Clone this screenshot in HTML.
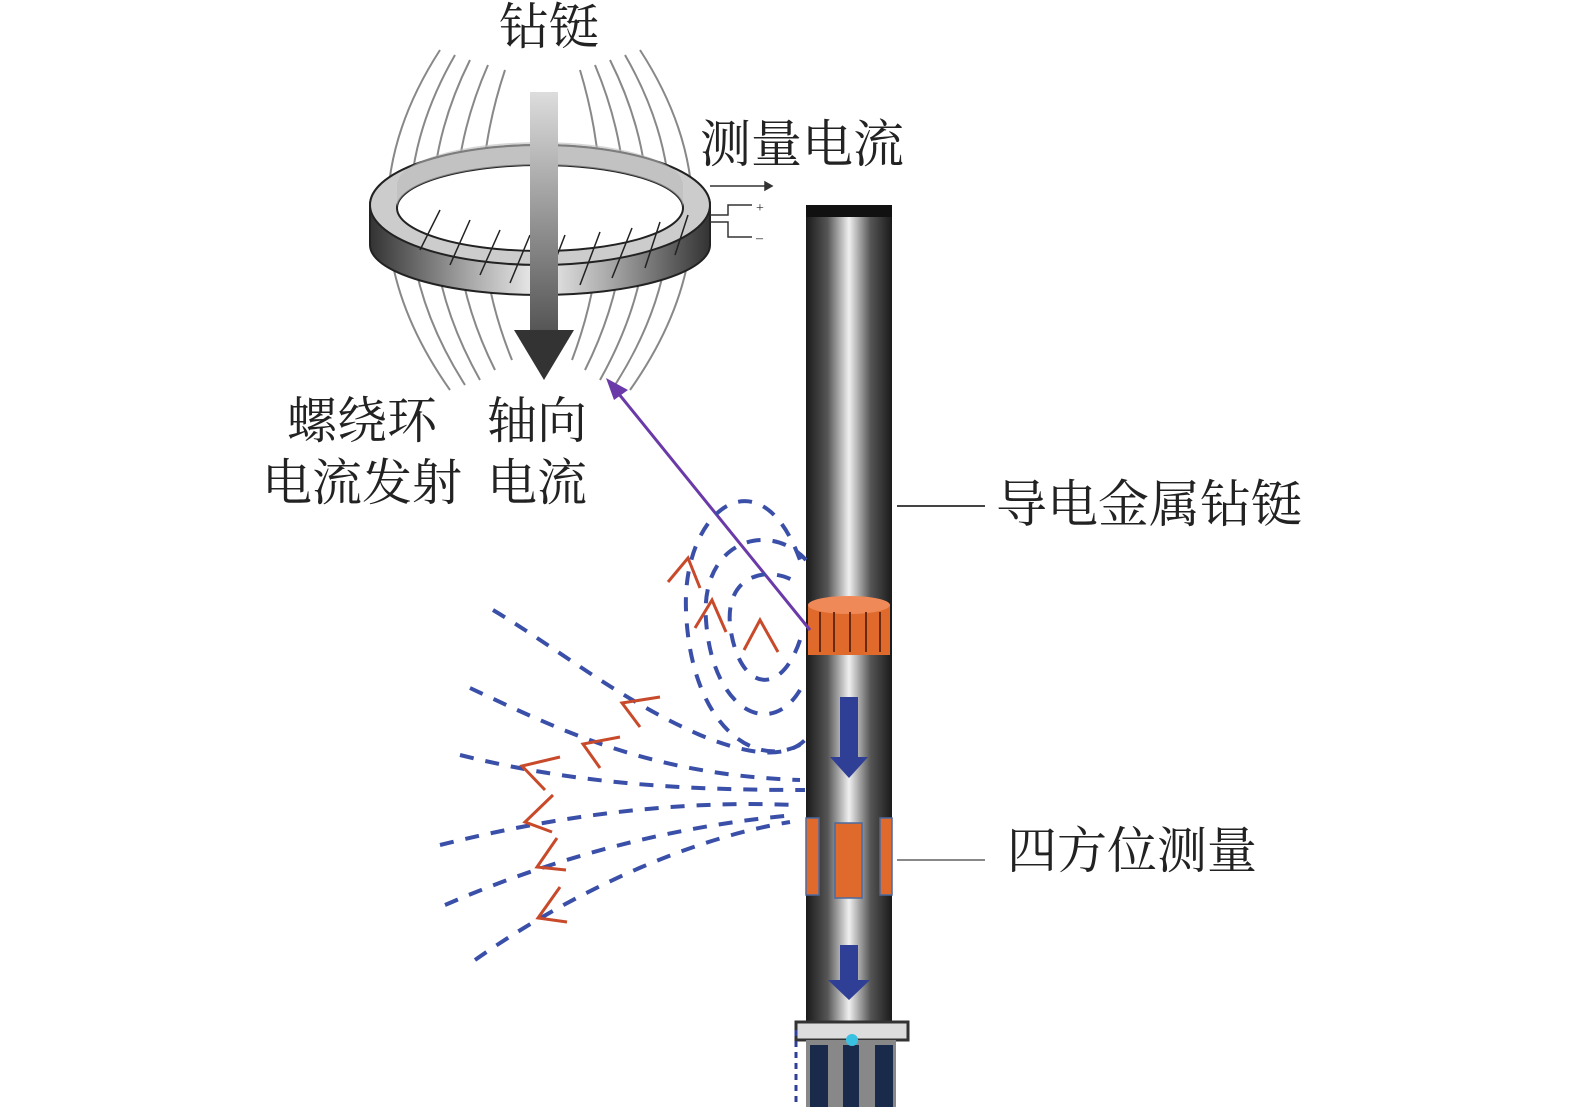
<!DOCTYPE html>
<html><head><meta charset="utf-8"><style>
html,body{margin:0;padding:0;background:#fff}
svg{display:block}
text{font-family:"Liberation Serif","Noto Serif CJK SC",serif;fill:#222}
</style></head><body>
<svg width="1575" height="1107" viewBox="0 0 1575 1107" xmlns="http://www.w3.org/2000/svg">
<defs>
<linearGradient id="pipe" x1="0" x2="1" y1="0" y2="0">
<stop offset="0" stop-color="#1a1a1a"/><stop offset="0.25" stop-color="#555"/><stop offset="0.5" stop-color="#f0f0f0"/><stop offset="0.75" stop-color="#555"/><stop offset="1" stop-color="#1a1a1a"/>
</linearGradient>
<linearGradient id="varr" x1="0" x2="0" y1="0" y2="1">
<stop offset="0" stop-color="#ddd"/><stop offset="1" stop-color="#555"/>
</linearGradient>
<linearGradient id="wall" x1="0" x2="1" y1="0" y2="0">
<stop offset="0" stop-color="#333"/><stop offset="0.3" stop-color="#aaa"/><stop offset="0.5" stop-color="#eee"/><stop offset="0.7" stop-color="#aaa"/><stop offset="1" stop-color="#333"/>
</linearGradient>
</defs>

<g fill="none" stroke="#888" stroke-width="2">
<path d="M440,50 Q330,220 450,390"/>
<path d="M455,55 Q360,220 465,385"/>
<path d="M470,60 Q390,220 480,380"/>
<path d="M488,65 Q420,220 495,370"/>
<path d="M505,70 Q455,220 512,360"/>
<path d="M640,50 Q750,220 630,390"/>
<path d="M625,55 Q720,220 615,385"/>
<path d="M610,60 Q690,220 600,380"/>
<path d="M595,65 Q660,220 585,370"/>
<path d="M580,70 Q625,220 572,360"/>
</g>

<path d="M370,205 A170,60 0 0 1 710,205 L710,245 A170,50 0 0 1 370,245 Z" fill="url(#wall)" stroke="#222" stroke-width="2"/>
<ellipse cx="540" cy="205" rx="170" ry="60" fill="#ccc" stroke="#222" stroke-width="2"/>
<ellipse cx="540" cy="208" rx="143" ry="43" fill="#fff" stroke="#222" stroke-width="2"/>
<path d="M397,208 A143,43 0 0 1 683,208 L683,185 A143,43 0 0 0 397,185 Z" fill="#bbb" opacity="0.6"/>
<g stroke="#222" stroke-width="1.5">
<line x1="420" y1="250" x2="440" y2="210"/><line x1="450" y1="265" x2="470" y2="220"/><line x1="480" y1="275" x2="500" y2="230"/><line x1="510" y1="283" x2="530" y2="235"/><line x1="545" y1="287" x2="565" y2="235"/><line x1="580" y1="285" x2="600" y2="232"/><line x1="612" y1="278" x2="632" y2="228"/><line x1="645" y1="268" x2="660" y2="222"/><line x1="675" y1="255" x2="688" y2="215"/>
</g>
<g stroke="#333" stroke-width="1.5" fill="none">
<line x1="710" y1="186" x2="765" y2="186"/><path d="M765,182 L772,186 L765,190Z" fill="#333"/>
<path d="M710,215 L728,215 L728,205 L752,205"/><path d="M710,222 L728,222 L728,237 L752,237"/>
</g>
<text x="756" y="212" font-size="14">+</text><text x="756" y="242" font-size="14">–</text>

<rect x="530" y="92" width="28" height="240" fill="url(#varr)"/>
<path d="M514,330 L574,330 L544,380 Z" fill="#333"/>

<rect x="806" y="205" width="86" height="818" fill="url(#pipe)"/>
<rect x="806" y="205" width="86" height="12" fill="#111"/>
<rect x="808" y="605" width="82" height="50" fill="#e06a2c"/>
<ellipse cx="849" cy="605" rx="41" ry="9" fill="#ef8a58"/>
<g stroke="#6a2a10" stroke-width="2"><line x1="820" y1="612" x2="820" y2="652"/><line x1="834" y1="612" x2="834" y2="652"/><line x1="850" y1="612" x2="850" y2="652"/><line x1="866" y1="612" x2="866" y2="652"/><line x1="880" y1="612" x2="880" y2="652"/></g>
<path d="M840,697 L858,697 L858,757 L868,757 L849,778 L830,757 L840,757Z" fill="#2f3f96"/>
<path d="M840,945 L858,945 L858,980 L870,980 L849,1000 L828,980 L840,980Z" fill="#2f3f96"/>
<g fill="#e06a2c" stroke="#4a6aa0" stroke-width="1.5">
<rect x="806" y="818" width="13" height="77"/><rect x="835" y="823" width="27" height="75"/><rect x="880" y="818" width="12" height="77"/>
</g>
<rect x="796" y="1022" width="112" height="18" fill="#ddd" stroke="#333" stroke-width="3"/>
<rect x="806" y="1040" width="90" height="67" fill="#888"/>
<g fill="#1a2a4a"><rect x="810" y="1045" width="18" height="62"/><rect x="843" y="1045" width="16" height="62"/><rect x="875" y="1045" width="18" height="62"/></g>
<circle cx="852" cy="1040" r="6" fill="#3ac0e0"/>
<g stroke="#2f3f96" stroke-width="3" stroke-dasharray="6 5"><line x1="796" y1="1030" x2="796" y2="1107"/></g>

<line x1="810" y1="630" x2="614" y2="388" stroke="#6a3aa8" stroke-width="3"/>
<path d="M606,378 L628,390 L614,400 Z" fill="#6a3aa8"/>

<g fill="none" stroke="#3a4fa8" stroke-width="4" stroke-dasharray="14 12">
<path d="M800,745 C750,770 690,720 686,610 C682,510 760,450 800,560"/>
<path d="M800,690 C770,740 712,710 706,620 C700,540 770,520 806,560"/>
<path d="M800,640 C780,700 738,690 730,625 C725,570 775,565 800,585"/>
<path d="M493,610 C560,650 620,700 700,735 C760,760 790,755 805,740"/>
<path d="M470,688 C560,730 650,775 800,780"/>
<path d="M460,755 C580,785 690,790 805,790"/>
<path d="M440,845 C560,815 680,800 795,805"/>
<path d="M445,905 C560,855 680,825 795,815"/>
<path d="M475,960 C560,900 680,840 790,822"/>
</g>
<g fill="none" stroke="#c84a2a" stroke-width="3">
<polyline points="668,582 688,558 700,588"/>
<polyline points="695,628 712,600 726,632"/>
<polyline points="744,650 760,620 778,652"/>
<polyline points="660,697 622,703 640,727"/>
<polyline points="620,737 583,744 600,768"/>
<polyline points="560,757 522,766 545,790"/>
<polyline points="553,795 525,822 552,832"/>
<polyline points="557,838 537,867 566,870"/>
<polyline points="560,887 538,918 567,922"/>
</g>

<line x1="897" y1="506" x2="985" y2="506" stroke="#444" stroke-width="2"/>
<line x1="897" y1="860" x2="985" y2="860" stroke="#888" stroke-width="2"/>

<text x="499" y="44" font-size="50">钻铤</text>
<text x="700" y="162" font-size="51">测量电流</text>
<text x="287" y="438" font-size="50">螺绕环</text>
<text x="262" y="500" font-size="50">电流发射</text>
<text x="487" y="438" font-size="50">轴向</text>
<text x="487" y="500" font-size="50">电流</text>
<text x="996" y="522" font-size="51">导电金属钻铤</text>
<text x="1007" y="868" font-size="50">四方位测量</text>
</svg>
</body></html>
